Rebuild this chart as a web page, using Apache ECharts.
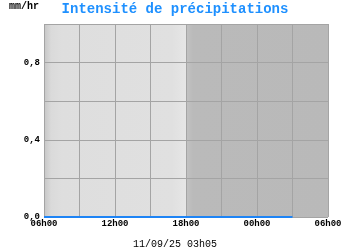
<!DOCTYPE html>
<html><head><meta charset="utf-8">
<script src="https://cdn.jsdelivr.net/npm/echarts@6/dist/echarts.min.js"></script>
<style>html,body{margin:0;padding:0;background:#fff}#c{width:350px;height:250px}</style>
</head><body><div id="c"></div>
<script>
// hours since 06h00
const hours = [0,1,2,3,4,5,6,7,8,9,10,11,12,13,14,15,16,17,18,19,20,21];
const values = [0,0,0,0,0,0,0,0,0,0,0,0,0,0,0,0,0,0,0,0,0,0];
const xTickLabels = ['06h00','12h00','18h00','00h00','06h00'];
const yTickLabels = {0:'0,0', 0.4:'0,4', 0.8:'0,8'};
const dayNight = [[0,12],[12,24]];
const titleText = 'Intensité de précipitations';
const unitText = 'mm/hr';
const dateText = '11/09/25 03h05';

const font = 'Liberation Mono';
const chart = echarts.init(document.getElementById('c'), null, {renderer:'canvas'});
chart.setOption({
  animation:false,
  backgroundColor:'#fff',
  title:[
    {text:titleText,left:'center',top:-3,textStyle:{fontFamily:font,fontSize:14,fontWeight:'bold',color:'#1e90ff'}},
    {text:unitText,left:9,top:1,padding:0,textStyle:{fontFamily:font,fontSize:10,fontWeight:'bold',color:'#000'}},
    {text:dateText,left:'center',top:234,textStyle:{fontFamily:font,fontSize:10,fontWeight:'normal',color:'#000'}}
  ],
  grid:{left:44,right:22,top:24,bottom:33,containLabel:false},
  xAxis:{type:'value',min:0,max:24,interval:3,z:5,
    axisLine:{show:false},axisTick:{show:false},
    splitLine:{show:true,lineStyle:{color:'#a4a4a4',width:1}},
    axisLabel:{margin:2,fontFamily:font,fontSize:9,fontWeight:'bold',color:'#000',
      formatter:v=> (v%6===0)? xTickLabels[v/6] : ''}
  },
  yAxis:{type:'value',min:0,max:1,interval:0.2,z:5,
    axisLine:{show:false},axisTick:{show:false},
    splitLine:{show:true,lineStyle:{color:'#a4a4a4',width:1}},
    axisLabel:{margin:4,fontFamily:font,fontSize:9,fontWeight:'bold',color:'#000',
      formatter:v=>{const k=Math.round(v*10)/10; return yTickLabels[k]!==undefined?yTickLabels[k]:'';}}
  },
  series:[
    {type:'line',z:1,data:[],silent:true,
      markArea:{silent:true,data:[
        [{xAxis:dayNight[0][0],yAxis:0,itemStyle:{color:{type:'linear',x:0,y:0,x2:1,y2:0,colorStops:[
          {offset:0,color:'#c6c6c6'},{offset:0.05,color:'#dadada'},{offset:0.12,color:'#dedede'},
          {offset:0.9,color:'#e0e0e0'},{offset:1,color:'#e6e6e6'}]}}},
         {xAxis:dayNight[0][1],yAxis:1}],
        [{xAxis:dayNight[1][0],yAxis:0,itemStyle:{color:{type:'linear',x:0,y:0,x2:1,y2:0,colorStops:[
          {offset:0,color:'#c2c2c2'},{offset:0.05,color:'#bababa'},{offset:1,color:'#b9b9b9'}]}}},
         {xAxis:dayNight[1][1],yAxis:1}]
      ]}
    },
    {type:'line',z:10,showSymbol:false,symbol:'none',
      data:hours.map((h,i)=>[h,values[i]]),
      lineStyle:{color:'#1e84f5',width:2}}
  ]
});
</script></body></html>
